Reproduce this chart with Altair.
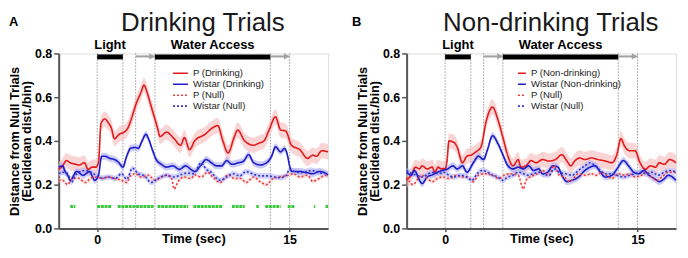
import altair as alt
import pandas as pd

FONT = "Liberation Sans"

# ---------------- data ----------------
panel_titles = ["Drinking Trials", "Non-drinking Trials"]
panel_letters = ["A", "B"]

labels_a = ["P (Drinking)", "Wistar (Drinking)", "P (Null)", "Wistar (Null)"]
labels_b = ["P (Non-drinking)", "Wistar (Non-drinking)", "P (Null)", "Wistar (Null)"]

series_colors = ["#e31a1c", "#1c1cc8", "#ee3a3a", "#3434d2"]
band_colors = ["#f7b9b9", "#a9a9f2", "#f9d2d2", "#b4b4f6"]
series_dashes = [[1, 0], [1, 0], [2, 2], [2, 2]]

# Panel A — P (Drinking)
a_p_t = [-3.0, -2.7, -2.4, -2.1, -1.8, -1.4, -1.0, -0.7, -0.4, -0.1, 0.1, 0.3, 0.6, 0.9, 1.1, 1.35,
         1.7, 2.1, 2.4, 2.6, 3.1, 3.4, 3.65, 3.9, 4.2, 4.5, 4.7, 4.9, 5.4, 6.0, 6.5, 6.8, 7.2, 7.6,
         8.4, 9.0, 9.4, 9.8, 10.2, 10.7, 10.95, 11.5, 12.2, 12.6, 13.0, 13.4, 13.9, 14.3, 14.7,
         15.15, 15.8, 16.4, 16.8, 17.1, 17.5, 18.0]
a_p_v = [0.27, 0.285, 0.31, 0.30, 0.295, 0.29, 0.30, 0.27, 0.28, 0.28, 0.30, 0.48, 0.50, 0.48, 0.46, 0.41,
         0.43, 0.44, 0.46, 0.49, 0.58, 0.62, 0.655, 0.62, 0.56, 0.50, 0.46, 0.42, 0.44, 0.41, 0.38, 0.415, 0.36, 0.40,
         0.43, 0.46, 0.47, 0.40, 0.345, 0.42, 0.45, 0.40, 0.38, 0.39, 0.40, 0.45, 0.51, 0.45, 0.445,
         0.38, 0.36, 0.32, 0.335, 0.33, 0.355, 0.35]
# Panel A — Wistar (Drinking)
a_w_t = [-3.0, -2.7, -2.5, -2.3, -2.1, -1.6, -1.1, -0.6, -0.4, -0.2, 0.1, 0.35, 0.6, 1.0, 1.35, 1.7, 2.0,
         2.3, 2.6, 3.0, 3.2, 3.5, 3.8, 4.0, 4.3, 4.6, 5.0, 5.4, 5.9, 6.4, 6.9, 7.3, 7.6, 8.1, 8.5, 8.9,
         9.3, 9.7, 10.1, 10.5, 11.0, 11.4, 11.8, 12.2, 12.7, 13.2, 13.6, 13.9, 14.3, 14.6, 14.85, 15.0,
         15.2, 15.8, 16.3, 16.8, 17.3, 17.7, 18.0]
a_w_v = [0.28, 0.286, 0.26, 0.243, 0.22, 0.26, 0.243, 0.26, 0.24, 0.22, 0.243, 0.33, 0.33, 0.32, 0.315, 0.30, 0.28,
         0.33, 0.366, 0.37, 0.366, 0.40, 0.43, 0.41, 0.36, 0.315, 0.293, 0.28, 0.286, 0.27, 0.286, 0.27, 0.26, 0.29, 0.315, 0.30,
         0.286, 0.286, 0.31, 0.293, 0.30, 0.307, 0.337, 0.30, 0.29, 0.30, 0.33, 0.373, 0.35, 0.365, 0.33, 0.285,
         0.26, 0.26, 0.255, 0.25, 0.26, 0.255, 0.245]
# Panel A — P (Null)
a_pn_t = [-3.0, -2.7, -2.3, -2.0, -1.5, -0.9, -0.5, 0.0, 0.4, 0.9, 1.35, 1.9, 2.3, 2.6, 3.0, 3.4, 4.0, 4.5,
          5.0, 5.4, 5.8, 6.0, 6.3, 6.8, 7.3, 7.6, 8.1, 8.6, 9.0, 9.6, 10.2, 10.7, 11.2, 11.6, 12.2, 12.7,
          13.2, 13.7, 14.2, 14.9, 15.3, 15.8, 16.4, 16.8, 17.3, 17.8, 18.0]
a_pn_v = [0.22, 0.22, 0.20, 0.225, 0.23, 0.21, 0.23, 0.235, 0.228, 0.235, 0.228, 0.22, 0.21, 0.24, 0.25, 0.235, 0.243, 0.22,
          0.235, 0.243, 0.228, 0.18, 0.214, 0.235, 0.228, 0.245, 0.235, 0.257, 0.235, 0.21, 0.245, 0.228, 0.228, 0.21, 0.235, 0.214,
          0.20, 0.228, 0.235, 0.243, 0.25, 0.235, 0.243, 0.215, 0.228, 0.243, 0.24]
# Panel A — Wistar (Null)
a_wn_t = [-3.0, -2.7, -2.3, -2.0, -1.7, -1.4, -0.9, -0.5, -0.1, 0.35, 0.9, 1.4, 1.9, 2.3, 2.75, 3.2, 3.7,
          4.2, 4.8, 5.4, 6.0, 6.5, 7.0, 7.5, 8.1, 8.5, 8.8, 9.6, 10.1, 10.6, 11.1, 11.6, 12.3, 12.8, 13.3,
          13.8, 14.3, 14.7, 15.0, 15.4, 15.8, 16.3, 16.7, 17.3, 18.0]
a_wn_v = [0.25, 0.257, 0.25, 0.21, 0.243, 0.257, 0.265, 0.257, 0.243, 0.23, 0.235, 0.228, 0.25, 0.225, 0.275, 0.25, 0.24,
          0.21, 0.23, 0.243, 0.235, 0.245, 0.253, 0.25, 0.30, 0.27, 0.26, 0.22, 0.235, 0.25, 0.24, 0.26, 0.245, 0.24, 0.24,
          0.235, 0.232, 0.24, 0.27, 0.26, 0.255, 0.26, 0.265, 0.255, 0.25]

# Panel B — P (Non-drinking)
b_p_t = [-3.0, -2.65, -2.3, -2.0, -1.8, -1.4, -1.0, -0.8, -0.55, -0.3, 0.0, 0.15, 0.3, 0.7, 0.95, 1.35, 1.7,
         2.1, 2.4, 2.8, 3.2, 3.7, 4.1, 4.5, 4.9, 5.3, 5.7, 5.9, 6.3, 6.7, 7.1, 7.6, 8.1, 8.6, 9.1, 9.5,
         9.8, 10.1, 10.5, 10.9, 11.4, 11.9, 12.5, 13.0, 13.4, 13.7, 14.0, 14.4, 14.8, 15.2, 15.6, 16.0,
         16.4, 16.7, 17.1, 17.5, 18.0]
b_p_v = [0.22, 0.243, 0.28, 0.272, 0.286, 0.272, 0.28, 0.257, 0.28, 0.272, 0.272, 0.31, 0.40, 0.393, 0.37, 0.30, 0.33,
         0.337, 0.35, 0.373, 0.49, 0.555, 0.50, 0.417, 0.33, 0.286, 0.315, 0.28, 0.286, 0.31, 0.30, 0.315, 0.308, 0.315, 0.337, 0.308,
         0.286, 0.308, 0.322, 0.315, 0.322, 0.315, 0.308, 0.30, 0.34, 0.41, 0.375, 0.355, 0.355, 0.30, 0.27, 0.286,
         0.28, 0.30, 0.293, 0.315, 0.30]
# Panel B — Wistar (Non-drinking)
b_w_t = [-3.0, -2.65, -2.4, -2.0, -1.8, -1.4, -1.0, -0.6, -0.2, 0.2, 0.6, 0.95, 1.35, 1.7, 2.2, 2.6, 3.0,
         3.3, 3.7, 4.1, 4.5, 4.9, 5.3, 5.7, 6.1, 6.5, 6.9, 7.3, 7.6, 8.0, 8.4, 8.8, 9.1, 9.5, 9.9, 10.4,
         10.9, 11.3, 11.7, 12.1, 12.5, 13.0, 13.4, 13.9, 14.3, 14.7, 15.1, 15.5, 15.9, 16.3, 16.7, 17.1,
         17.4, 18.0]
b_w_v = [0.257, 0.243, 0.265, 0.22, 0.205, 0.235, 0.245, 0.257, 0.265, 0.272, 0.286, 0.272, 0.286, 0.257, 0.30, 0.33, 0.315,
         0.36, 0.424, 0.39, 0.337, 0.286, 0.272, 0.28, 0.272, 0.286, 0.265, 0.272, 0.25, 0.257, 0.286, 0.28, 0.243, 0.214, 0.22, 0.235,
         0.265, 0.28, 0.286, 0.257, 0.235, 0.243, 0.272, 0.31, 0.286, 0.257, 0.25, 0.265, 0.243, 0.228, 0.214, 0.228,
         0.243, 0.22]
# Panel B — P (Null)
b_pn_t = [-3.0, -2.5, -2.1, -1.8, -1.4, -1.0, -0.6, -0.2, 0.3, 0.9, 1.3, 1.7, 2.2, 2.6, 3.1, 3.7, 4.2, 4.6,
          5.1, 5.7, 6.1, 6.3, 6.9, 7.4, 7.6, 8.1, 8.5, 8.9, 9.3, 9.7, 10.0, 10.4, 10.9, 11.4, 11.8, 12.2,
          12.6, 13.0, 13.5, 14.0, 14.4, 14.8, 15.3, 15.7, 16.1, 16.5, 16.9, 17.4, 18.0]
b_pn_v = [0.235, 0.20, 0.228, 0.243, 0.228, 0.214, 0.228, 0.235, 0.228, 0.243, 0.235, 0.235, 0.214, 0.243, 0.25, 0.243, 0.228, 0.243,
          0.25, 0.243, 0.18, 0.22, 0.243, 0.257, 0.265, 0.243, 0.286, 0.243, 0.235, 0.214, 0.228, 0.25, 0.243, 0.25, 0.243, 0.257,
          0.243, 0.228, 0.25, 0.243, 0.25, 0.235, 0.243, 0.257, 0.235, 0.22, 0.235, 0.257, 0.257]
# Panel B — Wistar (Null)
b_wn_t = [-3.0, -2.6, -2.2, -1.8, -1.3, -0.9, -0.5, -0.1, 0.3, 0.7, 1.2, 1.7, 2.1, 2.5, 2.9, 3.3, 3.7, 4.1,
          4.5, 4.9, 5.3, 5.7, 6.1, 6.4, 6.9, 7.4, 7.6, 8.1, 8.5, 8.9, 9.4, 9.9, 10.4, 10.9, 11.3, 11.7,
          12.1, 12.5, 13.0, 13.4, 13.9, 14.4, 14.8, 15.2, 15.7, 16.1, 16.6, 17.1, 17.5, 18.0]
b_wn_v = [0.265, 0.25, 0.243, 0.235, 0.25, 0.257, 0.25, 0.257, 0.243, 0.235, 0.243, 0.235, 0.22, 0.25, 0.265, 0.257, 0.243, 0.235,
          0.22, 0.235, 0.243, 0.257, 0.25, 0.243, 0.25, 0.257, 0.25, 0.243, 0.272, 0.257, 0.25, 0.243, 0.265, 0.286, 0.30, 0.286,
          0.265, 0.25, 0.25, 0.243, 0.235, 0.243, 0.25, 0.257, 0.25, 0.257, 0.243, 0.257, 0.265, 0.257]

# standard-error half widths of the shaded bands
sem_a = [0.035, 0.016, 0.01, 0.013]
sem_b = [0.035, 0.016, 0.01, 0.013]

# significant bins (panel A), as runs of bins [start, end] in seconds
sig_start = [-2.1, 0.0, 1.6, 4.7, 7.5, 10.5, 12.4, 13.1, 14.85, 16.9, 17.8]
sig_end = [-1.7, 1.1, 4.4, 7.1, 9.8, 11.5, 12.6, 14.3, 15.4, 17.0, 18.0]
sig_level = 0.1

# trial events
event_lines = [0, 2, 3, 4.5, 13.5, 15]
bar_labels = ["Light", "Water Access"]
bar_start = [0, 4.5]
bar_end = [2, 13.5]
arrow_start = [3, 13.5]
arrow_end = [4.5, 15]

# ---------------- build ----------------
X_DOMAIN = [-3, 18]
Y_DOMAIN = [0, 0.8]
W, H = 271, 176


def make_df(labels, ts, vs, sems):
    rows = []
    for lab, t, v, s in zip(labels, ts, vs, sems):
        for ti, vi in zip(t, v):
            rows.append({"series": lab, "t": ti, "v": vi, "lo": vi - s, "hi": vi + s})
    return pd.DataFrame(rows)


def panel(idx, labels, ts, vs, sems, leg_x, leg_len, with_sig, letter_x):
    df = make_df(labels, ts, vs, sems)
    xsc = alt.Scale(domain=X_DOMAIN, nice=False, zero=False)
    ysc = alt.Scale(domain=Y_DOMAIN, nice=False)
    xax = alt.Axis(values=[0, 15], format="d", title="Time (sec)", grid=False,
                   labelFontWeight="bold", labelFontSize=12.5, labelColor="black", labelPadding=2,
                   titleFontWeight="bold", titleFontSize=13, titleColor="black",
                   titleBaseline="top", titleY=4,
                   domainColor="#555555", domainWidth=2, tickColor="#555555", tickWidth=1.5, tickSize=3)
    yax = alt.Axis(values=[0, 0.2, 0.4, 0.6, 0.8], format=".1f", grid=False,
                   title=["Distance from Null Trials", "(Euclidean dist./bin)"],
                   labelFontWeight="bold", labelFontSize=12.5, labelColor="black", labelPadding=2,
                   titleFontWeight="bold", titleFontSize=12.8, titleColor="black", titleLineHeight=12,
                   titlePadding=1,
                   domainColor="#555555", domainWidth=2, tickColor="#555555", tickWidth=1.5, tickSize=5)
    x = alt.X("t:Q", scale=xsc, axis=xax)
    y = alt.Y("v:Q", scale=ysc, axis=yax)

    col = alt.Color("series:N", scale=alt.Scale(domain=labels, range=series_colors), legend=None)
    dash = alt.StrokeDash("series:N", scale=alt.Scale(domain=labels, range=series_dashes), legend=None)

    base = alt.Chart(df)
    bands = base.mark_area(opacity=0.6, interpolate="monotone").encode(
        x=x, y=alt.Y("lo:Q", scale=ysc, axis=yax), y2="hi:Q",
        fill=alt.Fill("series:N", scale=alt.Scale(domain=labels, range=band_colors), legend=None),
    )
    lines = base.mark_line(strokeWidth=1.6, interpolate="monotone").encode(
        x=x, y=y, color=col, strokeDash=dash, order=alt.Order("t:Q"),
    )

    ev = alt.Chart(pd.DataFrame({"t": event_lines})).mark_rule(
        color="#9a9a9a", strokeWidth=1, strokeDash=[1.5, 1.5]
    ).encode(x=alt.X("t:Q", scale=xsc))

    bars_df = pd.DataFrame({"s": bar_start, "e": bar_end, "label": bar_labels,
                            "m": [(a + b) / 2 for a, b in zip(bar_start, bar_end)]})
    bars = alt.Chart(bars_df).mark_rule(color="black", strokeWidth=5, strokeCap="butt", yOffset=3.5).encode(
        x=alt.X("s:Q", scale=xsc), x2="e:Q", y=alt.YDatum(0.8))
    bar_txt = alt.Chart(bars_df).mark_text(fontWeight="bold", fontSize=13, font=FONT, dy=-4,
                                           baseline="alphabetic", color="black").encode(
        x=alt.X("m:Q", scale=xsc), y=alt.YDatum(0.8), text="label:N")

    arr_df = pd.DataFrame({"s": arrow_start, "e": arrow_end})
    arr_line = alt.Chart(arr_df).mark_rule(color="#a0a0a0", strokeWidth=2, yOffset=3).encode(
        x=alt.X("s:Q", scale=xsc), x2="e:Q", y=alt.YDatum(0.8))
    arr_head = alt.Chart(arr_df).mark_point(shape="triangle-right", filled=True, size=40, opacity=1,
                                            color="#a0a0a0", xOffset=-3, yOffset=3).encode(
        x=alt.X("e:Q", scale=xsc), y=alt.YDatum(0.8))

    title = alt.Chart(pd.DataFrame({"txt": [panel_titles[idx]]})).mark_text(
        fontSize=26, font=FONT, align="center", baseline="alphabetic", color="#1a1a1a").encode(
        x=alt.value(145), y=alt.value(-23), text="txt:N")
    letter = alt.Chart(pd.DataFrame({"txt": [panel_letters[idx]]})).mark_text(
        fontSize=13, font=FONT, fontWeight="bold", align="left", baseline="alphabetic", color="black").encode(
        x=alt.value(letter_x), y=alt.value(-28), text="txt:N")

    # legend (drawn in the plot, top middle)
    leg_df = pd.DataFrame({"series": labels,
                           "ypix": [20.0 + 11.0 * i for i in range(len(labels))],
                           "x1": [leg_x] * len(labels), "x2": [leg_x + leg_len] * len(labels),
                           "xt": [leg_x + leg_len + 5] * len(labels)})
    leg_sym = alt.Chart(leg_df).mark_rule(strokeWidth=1.6).encode(
        x=alt.X("x1:Q", scale=None), x2="x2:Q", y=alt.Y("ypix:Q", scale=None),
        color=col, strokeDash=dash)
    leg_txt = alt.Chart(leg_df).mark_text(fontSize=9.6, font=FONT, align="left", baseline="middle",
                                          color="#222222").encode(
        x=alt.X("xt:Q", scale=None), y=alt.Y("ypix:Q", scale=None), text="series:N")

    layers = [ev, bands, lines, bars, bar_txt, arr_line, arr_head, title, letter, leg_sym, leg_txt]
    if with_sig:
        sig_df = pd.DataFrame({"s": sig_start, "e": sig_end, "lvl": [sig_level] * len(sig_start)})
        sig = alt.Chart(sig_df).mark_rule(color="#3cc83c", strokeWidth=3, strokeDash=[3, 0.7],
                                          strokeCap="butt").encode(
            x=alt.X("s:Q", scale=xsc), x2="e:Q", y=alt.Y("lvl:Q", scale=ysc))
        layers.insert(1, sig)
    return alt.layer(*layers).properties(width=W, height=H)


pa = panel(0, labels_a, [a_p_t, a_w_t, a_pn_t, a_wn_t], [a_p_v, a_w_v, a_pn_v, a_wn_v], sem_a,
           leg_x=115, leg_len=15, with_sig=True, letter_x=-50)
pb = panel(1, labels_b, [b_p_t, b_w_t, b_pn_t, b_wn_t], [b_p_v, b_w_v, b_pn_v, b_wn_v], sem_b,
           leg_x=112, leg_len=8, with_sig=False, letter_x=-55)

chart = alt.HConcatChart(hconcat=[pa, pb], spacing=79, bounds="flush").resolve_scale(
    color="independent", strokeDash="independent", fill="independent", x="independent", y="independent"
).properties(
    padding={"left": 0, "top": 0, "right": 0, "bottom": 0}
).configure_view(stroke=None).configure(font=FONT)

chart.save("out.html", embed_options={"renderer": "svg", "actions": False})
